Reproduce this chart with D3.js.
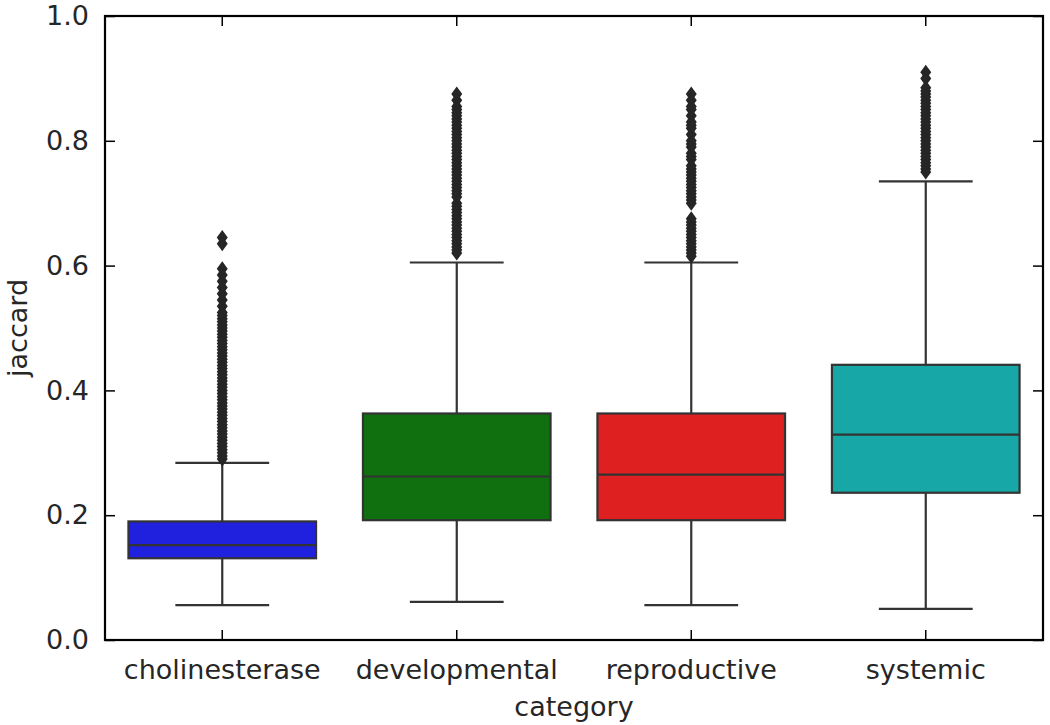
<!DOCTYPE html>
<html>
<head>
<meta charset="utf-8">
<script src="https://cdn.jsdelivr.net/npm/d3@7"></script>
<style>
  body { margin: 0; background: #fff; }
  text { font-family: "DejaVu Sans", sans-serif; fill: #262626; }
</style>
</head>
<body>
<div id="chart"></div>
<script>
// box statistics
var categories = ["cholinesterase", "developmental", "reproductive", "systemic"];
var boxColors = ["#2020df", "#107010", "#df2020", "#18a7a7"];
var whiskerLow = [0.056, 0.061, 0.056, 0.050];
var q1 = [0.131, 0.192, 0.192, 0.236];
var median = [0.152, 0.262, 0.265, 0.329];
var q3 = [0.190, 0.363, 0.363, 0.441];
var whiskerHigh = [0.284, 0.605, 0.605, 0.735];

var outCholinesterase = [0.645, 0.635, 0.595, 0.585, 0.575, 0.565, 0.555, 0.545, 0.535, 0.525, 0.52,
    0.515, 0.51, 0.505, 0.50, 0.495, 0.49, 0.485, 0.48, 0.475, 0.47, 0.465, 0.46, 0.455, 0.45,
    0.445, 0.44, 0.435, 0.43, 0.425, 0.42, 0.415, 0.41, 0.405, 0.40, 0.395, 0.39, 0.385, 0.38,
    0.375, 0.37, 0.365, 0.36, 0.355, 0.35, 0.345, 0.34, 0.335, 0.33, 0.325, 0.32, 0.315, 0.31,
    0.305, 0.30, 0.295, 0.29];
var outDevelopmental = [0.875, 0.865, 0.855, 0.85, 0.845, 0.84, 0.835, 0.83, 0.825, 0.82, 0.815,
    0.81, 0.805, 0.80, 0.795, 0.79, 0.785, 0.78, 0.775, 0.77, 0.765, 0.76, 0.755, 0.75, 0.745,
    0.74, 0.735, 0.73, 0.725, 0.72, 0.715, 0.71, 0.70, 0.695, 0.69, 0.685, 0.68, 0.675, 0.67,
    0.665, 0.66, 0.655, 0.65, 0.645, 0.64, 0.635, 0.63, 0.625, 0.62];
var outReproductive = [0.875, 0.865, 0.855, 0.85, 0.84, 0.83, 0.825, 0.82, 0.81, 0.80, 0.795,
    0.79, 0.78, 0.775, 0.77, 0.76, 0.755, 0.75, 0.745, 0.74, 0.735, 0.73, 0.725, 0.72, 0.715,
    0.71, 0.705, 0.70, 0.675, 0.67, 0.665, 0.66, 0.655, 0.65, 0.645, 0.64, 0.635, 0.63, 0.625,
    0.62, 0.615];
var outSystemic = [0.91, 0.9, 0.885, 0.88, 0.875, 0.87, 0.865, 0.86, 0.855, 0.85, 0.845, 0.84,
    0.835, 0.83, 0.825, 0.82, 0.815, 0.81, 0.805, 0.80, 0.795, 0.79, 0.785, 0.78, 0.775, 0.77,
    0.765, 0.76, 0.755, 0.75];
var outliers = [outCholinesterase, outDevelopmental, outReproductive, outSystemic];

var yTicks = [0.0, 0.2, 0.4, 0.6, 0.8, 1.0];

var width = 1050, height = 725;
var margin = {top: 16, right: 7, bottom: 85, left: 105};
var innerW = width - margin.left - margin.right,
    innerH = height - margin.top - margin.bottom;

var svg = d3.select("#chart").append("svg")
    .attr("width", width)
    .attr("height", height);

var g = svg.append("g")
    .attr("transform", "translate(" + margin.left + "," + margin.top + ")");

var x = d3.scaleBand().domain(categories).range([0, innerW]).paddingInner(0.2).paddingOuter(0.1);
var xc = function (c) { return x(c) + x.bandwidth() / 2; };
var y = d3.scaleLinear().domain([0, 1]).range([innerH, 0]);

var lineCol = "#333333";

var rows = categories.map(function (c, i) {
    return {cat: c, color: boxColors[i], lo: whiskerLow[i], q1: q1[i], med: median[i],
            q3: q3[i], hi: whiskerHigh[i], out: outliers[i]};
});

var box = g.selectAll(".box").data(rows).enter().append("g").attr("class", "box");

// whiskers
box.append("line")
    .attr("x1", function (d) { return xc(d.cat); }).attr("x2", function (d) { return xc(d.cat); })
    .attr("y1", function (d) { return y(d.lo); }).attr("y2", function (d) { return y(d.q1); })
    .attr("stroke", lineCol).attr("stroke-width", 2.2);
box.append("line")
    .attr("x1", function (d) { return xc(d.cat); }).attr("x2", function (d) { return xc(d.cat); })
    .attr("y1", function (d) { return y(d.q3); }).attr("y2", function (d) { return y(d.hi); })
    .attr("stroke", lineCol).attr("stroke-width", 2.2);
// caps
var capW = x.bandwidth() / 4;
["lo", "hi"].forEach(function (k) {
    box.append("line")
        .attr("x1", function (d) { return xc(d.cat) - capW; })
        .attr("x2", function (d) { return xc(d.cat) + capW; })
        .attr("y1", function (d) { return y(d[k]); }).attr("y2", function (d) { return y(d[k]); })
        .attr("stroke", lineCol).attr("stroke-width", 2.2);
});

// boxes
box.append("rect")
    .attr("x", function (d) { return x(d.cat); })
    .attr("width", x.bandwidth())
    .attr("y", function (d) { return y(d.q3); })
    .attr("height", function (d) { return y(d.q1) - y(d.q3); })
    .attr("fill", function (d) { return d.color; })
    .attr("stroke", lineCol).attr("stroke-width", 2.2);

// medians
box.append("line")
    .attr("x1", function (d) { return x(d.cat); })
    .attr("x2", function (d) { return x(d.cat) + x.bandwidth(); })
    .attr("y1", function (d) { return y(d.med); }).attr("y2", function (d) { return y(d.med); })
    .attr("stroke", lineCol).attr("stroke-width", 2.2);

// fliers (thin diamonds)
var dw = 5.5, dh = 7.5;
box.selectAll(".flier")
    .data(function (d) { return d.out.map(function (v) { return {cat: d.cat, v: v}; }); })
    .enter().append("path")
    .attr("class", "flier")
    .attr("d", function (d) {
        var cx = xc(d.cat), cy = y(d.v);
        return "M" + cx + "," + (cy - dh) + "L" + (cx + dw) + "," + cy +
               "L" + cx + "," + (cy + dh) + "L" + (cx - dw) + "," + cy + "Z";
    })
    .attr("fill", "#262626");

// axes with inward ticks on all four sides
var tickLen = 10;
var yAxis = g.append("g")
    .call(d3.axisLeft(y).tickValues(yTicks).tickFormat(d3.format(".1f")).tickSizeInner(-tickLen).tickSizeOuter(0).tickPadding(16));
var yAxisR = g.append("g").attr("transform", "translate(" + innerW + ",0)")
    .call(d3.axisRight(y).tickValues(yTicks).tickFormat("").tickSizeInner(-tickLen).tickSizeOuter(0));
var xAxis = g.append("g").attr("transform", "translate(0," + innerH + ")")
    .call(d3.axisBottom(x).tickSizeInner(-tickLen).tickSizeOuter(0).tickPadding(20));
var xAxisT = g.append("g")
    .call(d3.axisTop(x).tickFormat("").tickSizeInner(-tickLen).tickSizeOuter(0));

[yAxis, yAxisR, xAxis, xAxisT].forEach(function (a) {
    a.select(".domain").remove();
    a.selectAll(".tick line").attr("stroke", "#000").attr("stroke-width", 1.5);
    a.selectAll("text").attr("font-size", 27).attr("fill", "#262626")
        .style("font-family", "'DejaVu Sans', sans-serif");
});

// frame
g.append("rect")
    .attr("width", innerW).attr("height", innerH)
    .attr("fill", "none").attr("stroke", "#000").attr("stroke-width", 2.2);

// axis labels
svg.append("text")
    .attr("x", margin.left + innerW / 2).attr("y", 716)
    .attr("text-anchor", "middle").attr("font-size", 27)
    .text("category");
svg.append("text")
    .attr("transform", "translate(27," + (margin.top + innerH / 2) + ") rotate(-90)")
    .attr("text-anchor", "middle").attr("font-size", 27)
    .text("jaccard");
</script>
</body>
</html>
